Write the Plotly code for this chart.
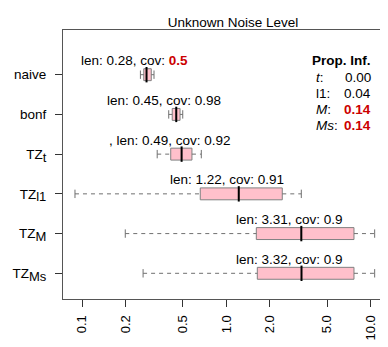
import plotly.graph_objects as go
import numpy as np

# methods, top to bottom
methods = ['naive', 'bonf', 'TZ_t', 'TZ_l1', 'TZ_M', 'TZ_Ms']
method_ticks = ['naive', 'bonf', 'TZ<sub>t</sub>', 'TZ<sub>l1</sub>',
                'TZ<sub>M</sub>', 'TZ<sub>Ms</sub>']

# interval lengths (box stats, shown on log scale)
w_lo = [0.254, 0.399, 0.332, 0.0894, 0.1995, 0.265]
q1 = [0.268, 0.422, 0.412, 0.660, 1.614, 1.640]
med = [0.28, 0.45, 0.49, 1.22, 3.31, 3.32]
q3 = [0.302, 0.478, 0.578, 2.443, 7.67, 7.67]
w_hi = [0.3155, 0.499, 0.671, 3.31, 10.67, 10.67]

lens = ['0.28', '0.45', '0.49', '1.22', '3.31', '3.32']
covs = ['0.5', '0.98', '0.92', '0.91', '0.9', '0.9']
cov_flag = [True, False, False, False, False, False]
prefix = ['', '', ', ', '', '', '']

# proportion infinite
prop_names = ['<i>t</i>:', 'l1:', '<i>M</i>:', '<i>Ms</i>:']
prop_vals = ['0.00', '0.04', '0.14', '0.14']
prop_flag = [False, False, True, True]

xticks = [0.1, 0.2, 0.5, 1.0, 2.0, 5.0, 10.0]
xtick_text = ['0.1', '0.2', '0.5', '1.0', '2.0', '5.0', '10.0']

W, H = 388, 347
L, R, T, B = 55, 9, 22, 56
RED = '#cc0000'
GREY = '#808080'
FONT = 'Liberation Sans, Arial, sans-serif'

def px_x(p):
    return (p - L) / (W - L - R)

def px_y(p):
    return 1 - (p - T) / (H - T - B)

# x axis in log10(100*v) units, so no tick sits at 0 (plotly relabels it "1")
lg = lambda v: list(np.log10(v) + 2)

# bigger subscripts, like the R plotmath ones
method_ticks = [t.replace('<sub>', "<sub><span style='font-size:13px'>")
                 .replace('</sub>', '</span></sub>') for t in method_ticks]

fig = go.Figure()

# dashed whiskers
wx, wy = [], []
for m, a, b, c, d in zip(methods, lg(w_lo), lg(q1), lg(q3), lg(w_hi)):
    wx += [a, b, None, c, d, None]
    wy += [m, m, None, m, m, None]
fig.add_trace(go.Scatter(x=wx, y=wy, mode='lines', hoverinfo='skip',
                         line=dict(color='#707070', width=1, dash='4px,4px')))
# staples
fig.add_trace(go.Scatter(x=lg(w_lo) + lg(w_hi), y=methods + methods,
                         mode='markers', hoverinfo='skip',
                         marker=dict(symbol='line-ns', size=6,
                                     line=dict(color='#707070', width=1))))

fig.add_trace(go.Box(y=methods, q1=lg(q1), median=lg(med), q3=lg(q3),
                     lowerfence=lg(q1), upperfence=lg(q3), orientation='h',
                     fillcolor='#ffc0cb', line=dict(color=GREY, width=1),
                     whiskerwidth=0, width=0.3, hoverinfo='skip'))
# medians
fig.add_trace(go.Scatter(x=lg(med), y=methods, mode='markers', hoverinfo='skip',
                         marker=dict(symbol='line-ns', size=11,
                                     line=dict(color='black', width=2))))

annots = []
for m, md, ln, cv, fl, pre in zip(methods, lg(med), lens, covs, cov_flag, prefix):
    cv_txt = "<b><span style='color:%s'>%s</span></b>" % (RED, cv) if fl else cv
    annots.append(dict(x=md, y=m, xref='x', yref='y',
                       text='%slen: %s, cov: %s' % (pre, ln, cv_txt),
                       showarrow=False, xshift=-12, yshift=14,
                       font=dict(size=13.5, color='black', family=FONT)))

annots.append(dict(x=px_x(365), y=px_y(43), xref='paper', yref='paper',
                   text='<b>Prop. Inf.</b>', showarrow=False, xanchor='right',
                   font=dict(size=13.5, color='black', family=FONT)))
for i, (nm, v, fl) in enumerate(zip(prop_names, prop_vals, prop_flag)):
    py = 59.5 + i * 16.3
    annots.append(dict(x=px_x(306), y=px_y(py), xref='paper', yref='paper',
                       text=nm, showarrow=False, xanchor='left',
                       font=dict(size=13.5, color='black', family=FONT)))
    vt = "<b>%s</b>" % v if fl else v
    annots.append(dict(x=px_x(365), y=px_y(py), xref='paper', yref='paper',
                       text=vt, showarrow=False, xanchor='right',
                       font=dict(size=13.5, color=RED if fl else 'black', family=FONT)))

fig.update_layout(
    width=W, height=H, showlegend=False,
    margin=dict(l=L, r=R, t=T, b=B),
    plot_bgcolor='white', paper_bgcolor='white',
    font=dict(family=FONT, size=13, color='black'),
    title=dict(text='Unknown Noise Level', x=px_x(225), xref='paper',
               y=1 - 14 / H, yref='container', yanchor='middle', xanchor='center',
               font=dict(size=13.5, color='black', family=FONT)),
    annotations=annots,
    xaxis=dict(range=[2 - 1.1317, 2 + 1.1137], tickmode='array',
               tickvals=lg(xticks), ticktext=xtick_text, tickangle=-90,
               ticks='outside', ticklen=7, tickcolor='#333', showgrid=False,
               zeroline=False, showline=True, mirror=True, linecolor='#555',
               linewidth=1, tickfont=dict(size=13), ticklabelstandoff=3,
               automargin=False),
    yaxis=dict(type='category', categoryorder='array', categoryarray=methods,
               range=[5.647, -1.125], tickvals=methods, ticktext=method_ticks,
               ticks='outside', ticklen=7, tickcolor='#333', showgrid=False,
               zeroline=False, showline=True, mirror=True, linecolor='#555',
               linewidth=1, tickfont=dict(size=13.5), ticklabelstandoff=6,
               automargin=False),
)

fig.write_html("out.html")
